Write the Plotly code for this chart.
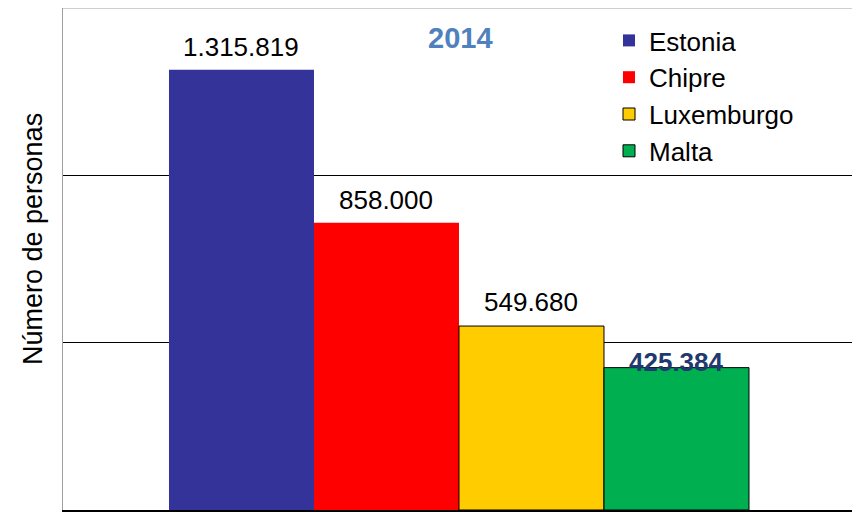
import plotly.graph_objects as go

countries = ["Estonia", "Chipre", "Luxemburgo", "Malta"]
values = [1315819, 858000, 549680, 425384]
labels = ["1.315.819", "858.000", "549.680", "425.384"]
year = "2014"
y_title = "Número de personas"

colors = ["#333399", "#FF0000", "#FFCC00", "#00B050"]
outline = ["#333399", "#FF0000", "#000000", "#000000"]
outline_w = [0, 0, 1, 1]
label_colors = ["#000000", "#000000", "#000000", "#1F3A6E"]
label_bold = [False, False, False, True]
label_shift = [23, 23, 24, 6]

FONT = "Liberation Sans, Arial, sans-serif"

# Page body has an 8px default margin; figure sized to fill the 860x513 window.
W, H = 852, 505
L, R, T, B = 55, 4, 0, 3
PW, PH = W - L - R, H - T - B
OFF = 8  # page offset of figure


def px_x(page_x):
    return (page_x - OFF - L) / PW


def px_y(page_y):
    return (H - B - (page_y - OFF)) / PH


fig = go.Figure()
for i, (c, v) in enumerate(zip(countries, values)):
    fig.add_trace(go.Bar(
        x=[i], y=[v], name=c, width=1,
        marker=dict(color=colors[i], line=dict(color=outline[i], width=outline_w[i])),
        hoverinfo="skip",
    ))
    fig.add_annotation(
        x=i, y=v, text=(f"<b>{labels[i]}</b>" if label_bold[i] else labels[i]),
        showarrow=False, yanchor="middle", yshift=label_shift[i],
        font=dict(family=FONT, size=26, color=label_colors[i]),
    )

fig.add_annotation(
    x=px_x(460), xref="paper", y=px_y(38), yref="paper", text=f"<b>{year}</b>",
    xanchor="center", yanchor="middle",
    showarrow=False, font=dict(family=FONT, size=29, color="#4F81BD"),
)
fig.add_annotation(
    x=px_x(33), xref="paper", y=px_y(239), yref="paper", text=y_title,
    textangle=-90, xanchor="center", yanchor="middle",
    showarrow=False, font=dict(family=FONT, size=27, color="#000000"),
)

fig.update_layout(
    width=W, height=H,
    margin=dict(l=L, r=R, t=T, b=B),
    paper_bgcolor="white", plot_bgcolor="white",
    barmode="overlay",
    showlegend=True,
    legend=dict(
        x=px_x(650 - 41), y=px_y(8 + 9), xanchor="left", yanchor="top",
        font=dict(family=FONT, size=26, color="#000000"),
        bgcolor="rgba(0,0,0,0)", itemclick=False,
    ),
    xaxis=dict(range=[-1.231, 4.238], showticklabels=False, showgrid=False, automargin=False,
               zeroline=False, showline=True, linecolor="#000000", linewidth=2, ticks=""),
    yaxis=dict(range=[0, 1500000], dtick=500000, showticklabels=False, automargin=False,
               showgrid=True, gridcolor="#000000", gridwidth=1, zeroline=False,
               showline=True, linecolor="#A0A0A0", linewidth=1, mirror=True, ticks=""),
    shapes=[dict(type="line", xref="paper", yref="paper", x0=0, x1=1, y0=1, y1=1,
                 line=dict(color="#A0A0A0", width=1))],
)

fig.write_html("out.html")
